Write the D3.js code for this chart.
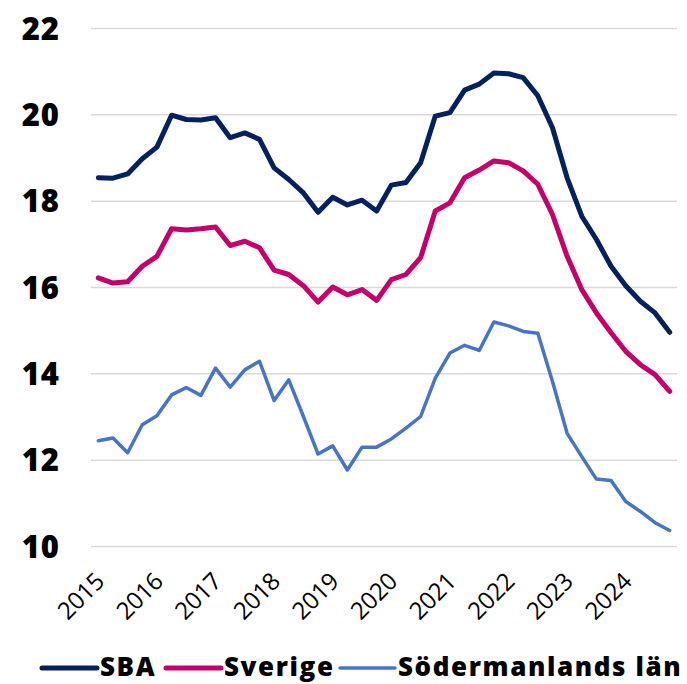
<!DOCTYPE html>
<html>
<head>
<meta charset="utf-8">
<script src="https://cdn.jsdelivr.net/npm/d3@7"></script>
<style>
  body { margin: 0; background: #fff; }
  svg { display: block; }
</style>
</head>
<body>
<svg id="chart"></svg>
<script>
// quarters 2015Q1 .. 2024Q4
let years = ["2015", "2016", "2017", "2018", "2019", "2020", "2021", "2022", "2023", "2024"];
let quarters = years.flatMap(y => ["Q1", "Q2", "Q3", "Q4"].map(q => y + q));

let sba = [18.53, 18.52, 18.62, 18.97, 19.24, 19.98, 19.88, 19.87, 19.92, 19.46,
    19.57, 19.42, 18.76, 18.49, 18.18, 17.73, 18.08, 17.90, 18.01, 17.76,
    18.36, 18.42, 18.88, 19.96, 20.04, 20.56, 20.70, 20.96, 20.94, 20.85,
    20.43, 19.69, 18.53, 17.64, 17.10, 16.48, 16.03, 15.67, 15.40, 14.95];
let sverige = [16.21, 16.09, 16.12, 16.48, 16.71, 17.35, 17.32, 17.35, 17.39, 16.96,
    17.06, 16.91, 16.39, 16.29, 16.03, 15.65, 16.00, 15.82, 15.94, 15.69,
    16.17, 16.29, 16.68, 17.76, 17.95, 18.53, 18.71, 18.92, 18.88, 18.69,
    18.38, 17.68, 16.71, 15.94, 15.40, 14.94, 14.51, 14.20, 13.97, 13.58];
let sodermanland = [12.44, 12.50, 12.16, 12.81, 13.02, 13.50, 13.67, 13.49, 14.12, 13.68,
    14.08, 14.28, 13.37, 13.85, 13.00, 12.13, 12.32, 11.76, 12.29, 12.29,
    12.48, 12.73, 13.00, 13.89, 14.47, 14.65, 14.53, 15.19, 15.10, 14.97,
    14.93, 13.81, 12.61, 12.07, 11.55, 11.52, 11.03, 10.80, 10.54, 10.36];
let yTicks = [10, 12, 14, 16, 18, 20, 22];

let series = [
    {name: "SBA", values: sba, color: "#03215f", width: 5},
    {name: "Sverige", values: sverige, color: "#c6006a", width: 5},
    {name: "Södermanlands län", values: sodermanland, color: "#4674c6", width: 3.5}
];

let width = 687, height = 684;
let svg = d3.select("#chart").attr("width", width).attr("height", height);

let x = d3.scalePoint().domain(quarters).range([91, 677]).padding(0.5);
let y = d3.scaleLinear().domain([10, 22]).range([546, 28]);

// gridlines + y labels
let yAx = d3.axisLeft(y).tickValues(yTicks).tickSize(-(677 - 91)).tickFormat(d3.format("d"));
let gy = svg.append("g").attr("transform", "translate(91,0)").call(yAx);
gy.select(".domain").remove();
gy.selectAll(".tick line").attr("stroke", "#d9d9d9").attr("stroke-width", 1.5);
gy.selectAll(".tick text")
    .attr("x", -31)
    .attr("dy", "0.36em")
    .style("font-family", "'Open Sans', sans-serif")
    .style("font-weight", 800)
    .style("font-size", "31px")
    .style("letter-spacing", "1px")
    .attr("fill", "#000");

// x labels, one per year at Q1
let xAx = d3.axisBottom(x).tickValues(years.map(yr => yr + "Q1")).tickSize(0).tickFormat(d => d.slice(0, 4));
let gx = svg.append("g").attr("transform", "translate(0,546)").call(xAx);
gx.select(".domain").remove();
gx.selectAll(".tick text")
    .attr("text-anchor", "end")
    .attr("dy", 0)
    .attr("y", 0)
    .attr("transform", "translate(7,37) rotate(-45)")
    .style("font-family", "'Open Sans', sans-serif")
    .style("font-weight", 400)
    .style("font-size", "24px")
    .style("letter-spacing", "-0.3px")
    .attr("fill", "#000");

// lines
let line = d3.line().x((d, i) => x(quarters[i])).y(d => y(d));
svg.selectAll(".series")
    .data(series)
    .enter()
    .append("path")
    .attr("d", d => line(d.values))
    .attr("fill", "none")
    .attr("stroke", d => d.color)
    .attr("stroke-width", d => d.width)
    .attr("stroke-linejoin", "round")
    .attr("stroke-linecap", "round");

// legend
let legendX = [42, 166, 340];
let legend = svg.append("g");
let items = legend.selectAll(".item").data(series).enter().append("g")
    .attr("transform", (d, i) => `translate(${legendX[i]},668)`);
items.append("line")
    .attr("x1", 0).attr("x2", 55)
    .attr("stroke", d => d.color)
    .attr("stroke-width", d => d.width)
    .attr("stroke-linecap", "round");
items.append("text")
    .attr("x", 58)
    .attr("y", 8)
    .text(d => d.name)
    .style("font-family", "'Open Sans', sans-serif")
    .style("font-weight", 800)
    .style("font-size", "26px")
    .style("letter-spacing", "1.6px")
    .attr("fill", "#000");
</script>
</body>
</html>
